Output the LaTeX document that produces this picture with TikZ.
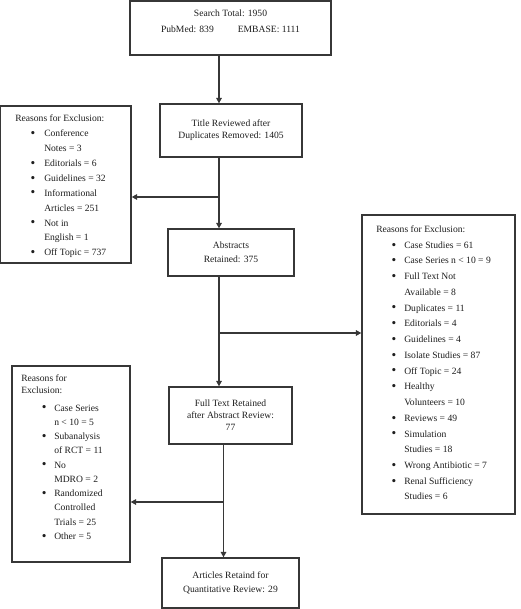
\documentclass[tikz,border=0pt]{standalone}
\usepackage{fontspec}
\setmainfont{Liberation Serif}
\usetikzlibrary{arrows.meta}
\definecolor{linec}{RGB}{55,55,55}
\definecolor{txtc}{RGB}{30,30,30}
\newlength\bindent
\newlength\tindent
\newcommand\bul{\raisebox{-0.6pt}{\fontsize{10}{10}\selectfont\textbullet}}
\newcommand\bi{\hspace*{\bindent}\makebox[\dimexpr\tindent-\bindent\relax][l]{\bul}}
\newcommand\ci{\hspace*{\tindent}}
\begin{document}
\begin{tikzpicture}[x=0.75pt,y=-0.75pt,
  box/.style={draw=linec, line width=1.1pt, rectangle, inner sep=0pt},
  ctext/.style={align=center, text=txtc, inner sep=0pt},
  ltext/.style={align=left, text=txtc, inner sep=0pt, anchor=north west},
  arr/.style={draw=linec, line width=0.8pt, -{Triangle[length=4pt,width=4.2pt]}},
  conn/.style={draw=linec, line width=0.8pt}]
\useasboundingbox[fill=white] (0,0) rectangle (520,609);

% central boxes
\node[box, minimum width=150.75pt, minimum height=40.5pt] (b1) at (230.5,28) {};
\node[ctext, font=\fontsize{7.2}{12}\selectfont] (t1) at (230.5,21) {Search Total: 1950\\PubMed: 839\hspace{18pt}EMBASE: 1111};

\node[box, ctext, minimum width=106.5pt, minimum height=39.75pt, font=\fontsize{7.2}{9}\selectfont] (b2) at (231,130.5) {Title Reviewed after\\Duplicates Removed: 1405};

\node[box, ctext, minimum width=94.5pt, minimum height=35.25pt, font=\fontsize{7.2}{10.5}\selectfont] (b3) at (231,252.5) {Abstracts\\Retained: 375};

\node[box, ctext, minimum width=92.25pt, minimum height=42.75pt, font=\fontsize{7.2}{9}\selectfont] (b4) at (230.5,415.5) {Full Text Retained\\after Abstract Review:\\77};

\node[box, ctext, minimum width=102.75pt, minimum height=37.5pt, font=\fontsize{7.2}{10.5}\selectfont] (b5) at (230.5,583) {Articles Retaind for\\Quantitative Review: 29};

% side boxes
\node[box, minimum width=97.9pt, minimum height=117.75pt] (l1) at (65.75,184.5) {};
\node[ltext, font={\fontsize{7.2}{11.2}\selectfont\setlength\bindent{11.6pt}\setlength\tindent{21.75pt}}] (l1t) at (15,114.5) {Reasons for Exclusion:\\
\bi Conference\\
\ci Notes = 3\\
\bi Editorials = 6\\
\bi Guidelines = 32\\
\bi Informational\\
\ci Articles = 251\\
\bi Not in\\
\ci English = 1\\
\bi Off Topic = 737};

\node[box, minimum width=114.75pt, minimum height=224.25pt] (r) at (438.5,364.5) {};
\node[ltext, font={\fontsize{7.2}{11.8}\selectfont\setlength\bindent{11.6pt}\setlength\tindent{21pt}}] (rt) at (376,225.5) {Reasons for Exclusion:\\
\bi Case Studies = 61\\
\bi Case Series n < 10 = 9\\
\bi Full Text Not\\
\ci Available = 8\\
\bi Duplicates = 11\\
\bi Editorials = 4\\
\bi Guidelines = 4\\
\bi Isolate Studies = 87\\
\bi Off Topic = 24\\
\bi Healthy\\
\ci Volunteers = 10\\
\bi Reviews = 49\\
\bi Simulation\\
\ci Studies = 18\\
\bi Wrong Antibiotic = 7\\
\bi Renal Sufficiency\\
\ci Studies = 6};

\node[box, minimum width=88.5pt, minimum height=147pt] (l2) at (71,464) {};
\node[ltext, font=\fontsize{7.2}{9}\selectfont] (l2h) at (21,374.5) {Reasons for\\Exclusion:};
\node[ltext, font={\fontsize{7.2}{10.7}\selectfont\setlength\bindent{15.4pt}\setlength\tindent{24.75pt}}] (l2t) at (21,404.5) {\bi Case Series\\
\ci n < 10 = 5\\
\bi Subanalysis\\
\ci of RCT = 11\\
\bi No\\
\ci MDRO = 2\\
\bi Randomized\\
\ci Controlled\\
\ci Trials = 25\\
\bi Other = 5};

% connectors
\coordinate (m1) at (219,0);
\coordinate (m2) at (223.5,0);
\coordinate (j1) at (219,197);
\coordinate (j2) at (219,333);
\coordinate (j3) at (223.5,502);

\draw[arr] (b1.south -| m1) -- (b2.north -| m1);
\draw[arr] (b2.south -| m1) -- (b3.north -| m1);
\draw[arr] (j1) -- (j1 -| l1.east);
\draw[arr] (b3.south -| m1) -- (b4.north -| m1);
\draw[arr] (j2) -- (j2 -| r.west);
\draw[arr] (b4.south -| m2) -- (b5.north -| m2);
\draw[arr] (j3) -- (j3 -| l2.east);
\end{tikzpicture}
\end{document}
